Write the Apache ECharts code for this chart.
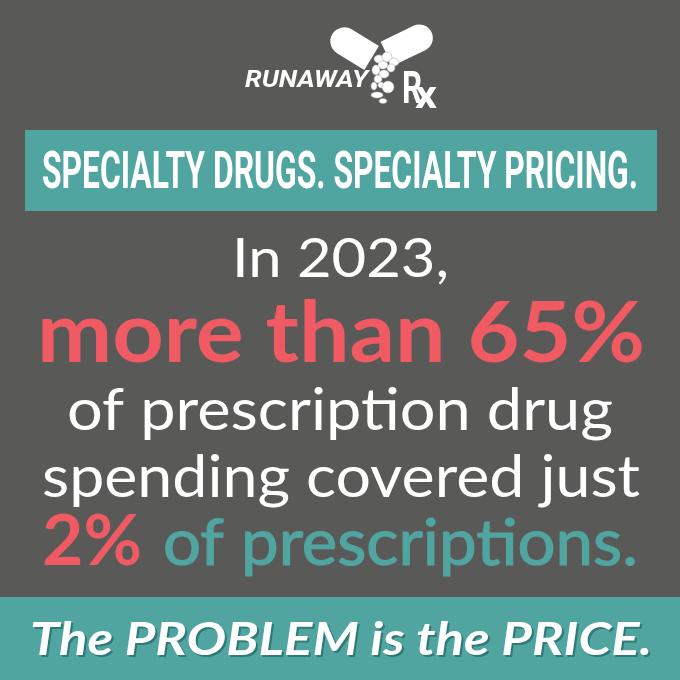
<!DOCTYPE html>
<html>
<head>
<meta charset="utf-8">
<script src="https://cdn.jsdelivr.net/npm/echarts@6/dist/echarts.min.js"></script>
<style>
html,body{margin:0;padding:0;background:#595958;}
#chart{width:680px;height:680px;}
</style>
</head>
<body>
<div id="chart"></div>
<script>
// ---- data ----
const brandWords = ['RUNAWAY', 'R', 'x'];
const headline = ['SPECIALTY DRUGS. SPECIALTY PRICING.'];
const reportYear = [2023];
const spendingSharePct = [65];      // share of prescription drug spending
const prescriptionSharePct = [2];   // share of prescriptions
const bodyLines = ['of prescription drug', 'spending covered just', 'of prescriptions.'];
const tagline = ['The PROBLEM is the PRICE.'];

// ---- colours ----
const BG = '#595958', TEAL = '#50a5a1', RED = '#ef5a63', WHITE = '#ffffff', TEAL_DARK = '#2f7a77';

const ctx = document.createElement('canvas').getContext('2d');
function fontStr(style, weight, size, family){ return style + ' ' + weight + ' ' + size + 'px ' + family; }
function measure(text, font){ ctx.font = font; ctx.textBaseline = 'alphabetic'; return ctx.measureText(text).width; }
function midToBase(font){ ctx.font = font; ctx.textBaseline = 'middle'; const m = ctx.measureText('H'); ctx.textBaseline = 'alphabetic'; return m.actualBoundingBoxDescent; }

// text placed with its left edge at `left`, baseline at `base`, stretched to `right`
function fitText(text, left, right, base, size, opts){
  opts = opts || {};
  const font = fontStr(opts.style || 'normal', opts.weight || 'normal', size, opts.family || 'Lato');
  const w = measure(text, font);
  const sx = (right - left) / w;
  const off = midToBase(font);
  const els = [];
  if (opts.shadow) {
    els.push({type:'text', x:left + opts.shadow, y:base - off + opts.shadow, scaleX:sx, silent:true,
      style:{text:text, font:font, fill:opts.shadowColor, align:'left', verticalAlign:'middle', textAlign:'left', textVerticalAlign:'middle'}});
  }
  els.push({type:'text', x:left, y:base - off, scaleX:sx, silent:true,
    style:{text:text, font:font, fill:opts.fill, align:'left', verticalAlign:'middle', textAlign:'left', textVerticalAlign:'middle',
      stroke: opts.strokeW ? opts.fill : null, lineWidth: opts.strokeW || 0}});
  return els;
}

const els = [];
els.push({type:'rect', shape:{x:0,y:0,width:680,height:680}, style:{fill:BG}, silent:true});

// ---- logo ----
els.push({type:'rect', x:352, y:46, rotation:-0.55, shape:{x:-23,y:-14,width:46,height:28,r:[14,0,0,14]}, style:{fill:WHITE}, silent:true});
els.push({type:'rect', x:409, y:43, rotation:0.45, shape:{x:-25,y:-13.5,width:50,height:27,r:[0,13.5,13.5,0]}, style:{fill:WHITE}, silent:true});
const pills = [
  {t:'ellipse', cx:379, cy:59, rx:5, ry:4}, {t:'ellipse', cx:387, cy:57, rx:5, ry:5}, {t:'ellipse', cx:394, cy:62, rx:5, ry:4},
  {t:'ellipse', cx:383, cy:65, rx:5, ry:4}, {t:'ellipse', cx:391, cy:68, rx:4, ry:4}, {t:'ellipse', cx:376, cy:70, rx:4, ry:5},
  {t:'ellipse', cx:384, cy:74, rx:5, ry:4}, {t:'ellipse', cx:378, cy:79, rx:4, ry:4}, {t:'ellipse', cx:374, cy:86, rx:3, ry:4},
  {t:'ellipse', cx:381, cy:85, rx:3, ry:3}, {t:'circle', cx:388, cy:87, r:6},
  {t:'ellipse', cx:377, cy:95, rx:6, ry:3}, {t:'ellipse', cx:383, cy:101, rx:4, ry:2.5}
];
pills.forEach(p => els.push(p.t === 'circle'
  ? {type:'circle', silent:true, shape:{cx:p.cx,cy:p.cy,r:p.r}, style:{fill:WHITE, stroke:'#b0b0b0', lineWidth:0.6}}
  : {type:'ellipse', silent:true, shape:{cx:p.cx,cy:p.cy,rx:p.rx,ry:p.ry}, style:{fill:WHITE, stroke:'#b0b0b0', lineWidth:0.6}}));
els.push(...fitText(brandWords[0], 245, 368, 87, 24, {style:'italic', weight:'bold', family:'Roboto', fill:WHITE}));
els.push(...fitText(brandWords[1], 402, 422, 103, 44, {weight:'bold', family:'Roboto', fill:WHITE}));
els.push(...fitText(brandWords[2], 415, 437, 108, 38, {weight:'bold', family:'Roboto', fill:WHITE}));

// ---- headline box ----
els.push({type:'rect', shape:{x:25,y:130,width:632,height:81}, style:{fill:TEAL}, silent:true});
els.push(...fitText(headline[0], 42, 638, 188, 51, {weight:'bold', family:'Roboto', fill:WHITE}));

// ---- body ----
els.push(...fitText('In ' + reportYear[0] + ',', 232, 449, 277, 54, {fill:WHITE}));
els.push(...fitText('more than ' + spendingSharePct[0] + '%', 37, 645, 362, 84, {weight:'bold', fill:RED}));
els.push(...fitText(bodyLines[0], 67, 613, 430, 58, {fill:WHITE}));
els.push(...fitText(bodyLines[1], 42, 640, 497, 58, {fill:WHITE}));
els.push(...fitText(prescriptionSharePct[0] + '%', 42, 142, 565, 70, {weight:'bold', fill:RED}));
els.push(...fitText(bodyLines[2], 163, 638, 565, 64, {fill:TEAL, strokeW:1.2}));

// ---- bottom band ----
els.push({type:'rect', shape:{x:0,y:597,width:680,height:83}, style:{fill:TEAL}, silent:true});
els.push(...fitText(tagline[0], 30, 652, 655, 46, {style:'italic', weight:'bold', fill:WHITE, shadow:2, shadowColor:TEAL_DARK}));

const chart = echarts.init(document.getElementById('chart'), null, {renderer:'canvas'});
chart.setOption({
  backgroundColor: BG,
  animation: false,
  graphic: {elements: els}
});
</script>
</body>
</html>
